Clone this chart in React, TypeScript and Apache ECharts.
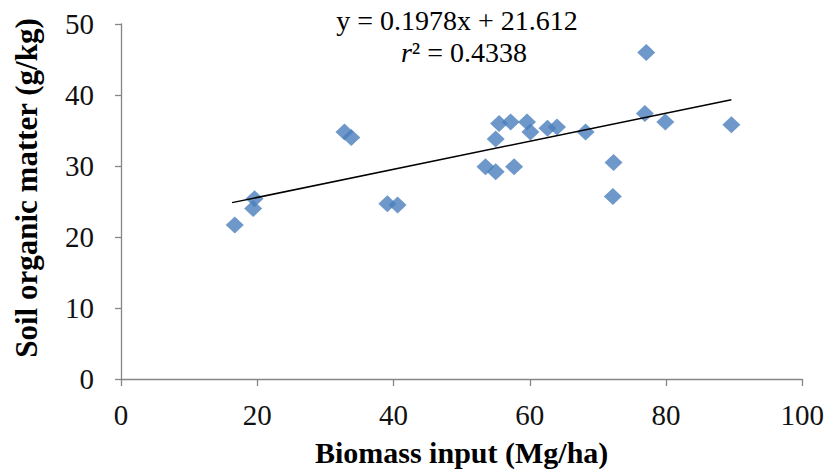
import React, { useEffect, useRef } from "react";
import * as echarts from "echarts";

// Biomass input (Mg/ha) and soil organic matter (g/kg)
const biomass = [16.7, 19.6, 19.4, 32.8, 33.8, 39.1, 40.6, 53.5, 55.0, 57.7, 55.0, 55.5, 57.2, 59.6, 60.1, 62.6, 64.0, 68.2, 72.2, 72.3, 76.9, 77.1, 79.9, 89.6];
const som = [21.7, 25.4, 24.0, 34.8, 34.0, 24.7, 24.5, 29.9, 29.2, 29.9, 33.8, 36.0, 36.2, 36.2, 34.8, 35.3, 35.5, 34.8, 25.7, 30.5, 37.4, 46.0, 36.2, 35.8];

// Trend line end points as drawn in the picture
const trendX = [16.3, 89.6];
const trendY = [24.84, 39.34];

const xTicks = [0, 20, 40, 60, 80, 100];
const yTicks = [0, 10, 20, 30, 40, 50];

const xTitle = "Biomass input (Mg/ha)";
const yTitle = "Soil organic matter (g/kg)";
const equationText = "y = 0.1978x + 21.612";
const r2Value = "0.4338";

const serif = "Liberation Serif";

export default function App() {
  const ref = useRef<HTMLDivElement>(null);

  useEffect(() => {
    if (!ref.current) return;
    const chart = echarts.init(ref.current, null, { renderer: "svg" });
    const axisColor = "#868686";
    chart.setOption({
      animation: false,
      backgroundColor: "#ffffff",
      grid: { left: 121, right: 23, top: 24, bottom: 94 },
      xAxis: {
        type: "value",
        min: xTicks[0],
        max: xTicks[xTicks.length - 1],
        interval: xTicks[1] - xTicks[0],
        name: xTitle,
        nameLocation: "middle",
        nameGap: 58,
        nameTextStyle: { fontFamily: serif, fontWeight: "bold", fontSize: 30, color: "#000" },
        axisLine: { show: true, lineStyle: { color: axisColor, width: 1.3 } },
        axisTick: { show: true, length: 7, lineStyle: { color: axisColor, width: 1.3 } },
        axisLabel: { fontFamily: serif, fontSize: 29, color: "#111", margin: 21 },
        splitLine: { show: false },
      },
      yAxis: {
        type: "value",
        min: yTicks[0],
        max: yTicks[yTicks.length - 1],
        interval: yTicks[1] - yTicks[0],
        axisLine: { show: true, lineStyle: { color: axisColor, width: 1.3 } },
        axisTick: { show: true, length: 6, lineStyle: { color: axisColor, width: 1.3 } },
        axisLabel: { fontFamily: serif, fontSize: 29, color: "#111", margin: 27 },
        splitLine: { show: false },
      },
      series: [
        {
          type: "line",
          data: trendX.map((x, i) => [x, trendY[i]]),
          showSymbol: false,
          symbol: "none",
          lineStyle: { color: "#000", width: 1.5 },
          z: 3,
        },
        {
          type: "scatter",
          data: biomass.map((x, i) => [x, som[i]]),
          symbol: "diamond",
          symbolSize: [18, 17],
          itemStyle: { color: "#4A7EBB" },
          z: 2,
        },
      ],
      graphic: [
        {
          type: "text",
          x: 26,
          y: 188,
          rotation: Math.PI / 2,
          style: {
            text: yTitle,
            fontFamily: serif,
            fontWeight: "bold",
            fontSize: 31,
            fill: "#000",
            textAlign: "center",
            textVerticalAlign: "middle",
          },
        },
        {
          type: "text",
          x: 457,
          y: 20,
          style: {
            text: equationText,
            fontFamily: serif,
            fontSize: 28,
            fill: "#000",
            textAlign: "center",
            textVerticalAlign: "middle",
          },
        },
        {
          type: "text",
          x: 464,
          y: 52,
          style: {
            text: "{i|r}² = " + r2Value,
            fontFamily: serif,
            fontSize: 28,
            fill: "#000",
            textAlign: "center",
            textVerticalAlign: "middle",
            rich: {
              i: { fontFamily: serif, fontSize: 28, fontStyle: "italic", fill: "#000" },
            },
          },
        },
      ],
    });
    return () => chart.dispose();
  }, []);

  return (
    <div
      ref={ref}
      style={{ position: "fixed", left: 0, top: 0, width: 827, height: 473, background: "#fff" }}
    />
  );
}
